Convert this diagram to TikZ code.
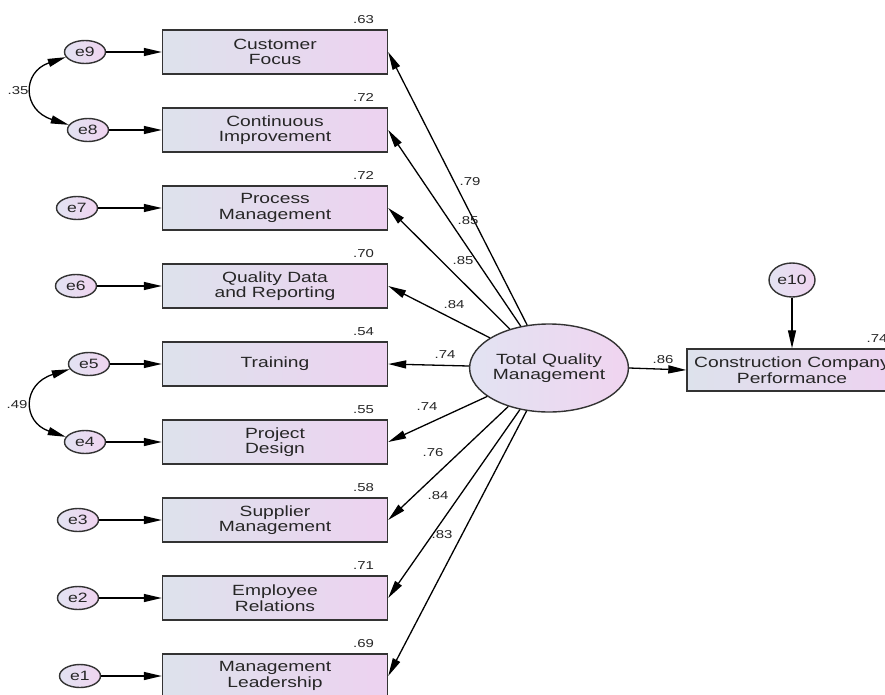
\documentclass[tikz,border=0pt]{standalone}
\usepackage{fontspec}
\setmainfont{Liberation Sans}[FakeStretch=1.3]
\usetikzlibrary{arrows.meta,shapes.geometric}
\definecolor{boxL}{HTML}{DDE2EC}
\definecolor{boxR}{HTML}{EDD2F0}
\definecolor{ellL}{HTML}{E2E3F2}
\definecolor{ellR}{HTML}{F0D4F0}
\definecolor{txt}{HTML}{262626}
\definecolor{edge}{HTML}{333333}
\begin{document}
\begin{tikzpicture}[x=1pt,y=-1pt,
  obs/.style={draw=edge, line width=1.4pt, left color=boxL, right color=boxR,
    minimum width=225pt, minimum height=44pt, inner sep=0pt, align=center,
    text=txt, font=\fontsize{14.8}{15.5}\selectfont},
  err/.style={ellipse, draw=edge, line width=1.4pt, left color=ellL, right color=ellR,
    minimum width=41pt, minimum height=23pt, inner sep=0pt, text=txt,
    font=\fontsize{13.5}{14}\selectfont},
  num/.style={text=txt, font=\fontsize{11.5}{12}\selectfont, inner sep=0pt},
  arr/.style={-{Triangle[length=18pt,width=8pt]}, line width=1.3pt, draw=black},
  cov/.style={{Triangle[length=18pt,width=8pt]}-{Triangle[length=18pt,width=8pt]}, line width=1.3pt, draw=black}
]
\useasboundingbox (0,0) rectangle (885,695);
\fill[white] (0,0) rectangle (885,695);
\begin{scope}
\clip (0,0) rectangle (885,695);

% observed boxes
\node[obs] (b1) at (275,52)  {Customer\\Focus};
\node[obs] (b2) at (275,130) {Continuous\\Improvement};
\node[obs] (b3) at (275,208) {Process\\Management};
\node[obs] (b4) at (275,286) {Quality Data\\and Reporting};
\node[obs] (b5) at (275,364) {Training};
\node[obs] (b6) at (275,442) {Project\\Design};
\node[obs] (b7) at (275,520) {Supplier\\Management};
\node[obs] (b8) at (275,598) {Employee\\Relations};
\node[obs] (b9) at (275,676) {Management\\Leadership};

% error terms
\node[err] (e9) at (85,52)  {e9};
\node[err] (e8) at (88,130) {e8};
\node[err] (e7) at (77,208) {e7};
\node[err] (e6) at (76,286) {e6};
\node[err] (e5) at (89,364) {e5};
\node[err] (e4) at (85,442) {e4};
\node[err] (e3) at (78,520) {e3};
\node[err] (e2) at (78,598) {e2};
\node[err] (e1) at (80,676) {e1};

% latent and outcome
\node[ellipse, draw=edge, line width=1.4pt, left color=ellL, right color=ellR,
  minimum width=137pt, minimum height=88pt, inner sep=0pt, align=center,
  text=txt, font=\fontsize{14.8}{15.5}\selectfont] (tqm) at (549,368)
  {Total Quality\\Management};
\node[obs, minimum width=210pt, minimum height=42pt] (ccp) at (792,370)
  {Construction Company\\Performance};
\node[err, minimum width=46pt, minimum height=34pt] (e10) at (792,280) {e10};

% error arrows
\foreach \e/\b in {e9/b1,e8/b2,e7/b3,e6/b4,e5/b5,e4/b6,e3/b7,e2/b8,e1/b9}
  \draw[arr] (\e.east) -- (\b.west);
\draw[arr] (e10.south) -- (ccp.north);

% covariances
\draw[cov] (e9.195) .. controls (22,72) and (22,110) .. (e8.165);
\draw[cov] (e5.195) .. controls (22,384) and (22,422) .. (e4.165);
\node[num] (c1) at (18,91) {.35};
\node[num] (c2) at (17,405) {.49};

% loadings
\foreach \b in {b1,b2,b3,b4,b5,b6,b7,b8,b9}
  \draw[arr] (tqm) -- (\b.east);
\draw[arr] (tqm.east) -- (ccp.west);

\node[num] (l1) at (470,182) {.79};
\node[num] (l2) at (468,221) {.85};
\node[num] (l3) at (463,261) {.85};
\node[num] (l4) at (454,305) {.84};
\node[num] (l5) at (445,355) {.74};
\node[num] (l6) at (427,407) {.74};
\node[num] (l7) at (433,453) {.76};
\node[num] (l8) at (438,496) {.84};
\node[num] (l9) at (442,535) {.83};
\node[num] (l10) at (663,360) {.86};

% squared multiple correlations
\foreach \b/\v in {b1/.63,b2/.72,b3/.72,b4/.70,b5/.54,b6/.55,b7/.58,b8/.71,b9/.69}
  \node[num, anchor=base east] at ([xshift=-14pt,yshift=6pt]\b.north east) {\v};
\node[num, anchor=base east] (r10) at ([xshift=-10pt,yshift=6pt]ccp.north east) {.74};
\end{scope}
\end{tikzpicture}
\end{document}
